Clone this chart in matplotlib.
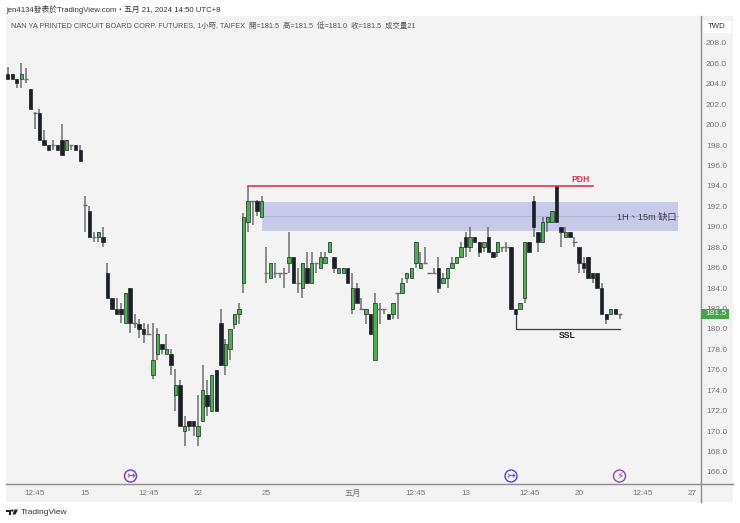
import matplotlib
matplotlib.use('Agg')
import matplotlib.pyplot as plt
from matplotlib.patches import Rectangle, Circle, Polygon
from matplotlib.lines import Line2D

# hourly candles
opens = [205.0, 205.0, 204.5, 204.5, 204.5, 203.5, 201.1, 201.1, 198.5, 198.0, 198.0, 198.0,
         198.5, 197.5, 198.0, 198.0, 197.5, 192.1, 191.5, 189.0, 189.0, 189.0, 185.5, 183.0,
         182.0, 182.0, 180.6, 184.0, 180.6, 180.5, 180.0, 179.5, 175.5, 177.5, 178.5, 177.5,
         177.5, 173.5, 174.5, 170.0, 171.0, 171.0, 169.5, 171.0, 173.5, 172.0, 176.0, 180.6,
         176.5, 178.0, 180.5, 181.5, 184.5, 190.5, 192.5, 192.5, 191.0, 185.5, 185.0, 185.5,
         185.5, 185.5, 186.5, 187.0, 184.5, 184.0, 186.0, 184.5, 186.5, 186.0, 186.5, 187.5,
         187.0, 185.5, 185.5, 186.0, 182.0, 184.0, 182.0, 181.5, 181.5, 177.0, 182.0, 182.0,
         181.5, 181.5, 183.5, 183.5, 185.0, 185.0, 186.5, 186.0, 186.5, 185.5, 185.5, 186.0,
         184.5, 185.0, 186.0, 186.5, 187.0, 189.0, 188.0, 189.0, 188.5, 188.0, 189.0, 187.5,
         187.5, 188.0, 188.0, 188.0, 182.0, 182.0, 183.0, 188.5, 192.5, 189.5, 188.5, 190.5,
         190.5, 194.0, 190.0, 189.0, 189.5, 188.5, 188.0, 186.5, 187.0, 185.5, 185.5, 184.0,
         181.5, 181.5, 182.0, 181.5]
highs = [205.6, 205.0, 204.5, 206.0, 205.5, 203.5, 201.2, 201.5, 199.5, 198.0, 198.5, 198.0,
         200.1, 198.5, 198.0, 198.0, 198.0, 193.0, 192.0, 189.5, 189.5, 190.0, 186.5, 183.0,
         183.0, 182.5, 183.5, 184.0, 181.5, 181.0, 180.6, 180.5, 180.6, 180.1, 178.5, 179.5,
         178.0, 176.1, 175.0, 171.5, 171.0, 171.0, 173.5, 176.5, 175.0, 175.5, 176.0, 182.0,
         179.0, 180.0, 181.5, 182.5, 191.4, 194.0, 192.5, 192.6, 193.0, 188.0, 186.5, 186.5,
         185.5, 186.0, 189.5, 187.0, 186.0, 186.5, 187.5, 187.5, 186.5, 187.5, 187.5, 188.5,
         187.0, 186.0, 186.0, 186.0, 185.5, 184.5, 183.0, 182.0, 181.5, 183.5, 182.5, 182.0,
         181.5, 182.5, 183.5, 185.0, 185.5, 186.0, 188.5, 187.5, 188.0, 185.5, 186.0, 187.0,
         185.5, 186.0, 187.0, 187.0, 188.5, 189.5, 190.0, 189.0, 188.5, 188.5, 190.0, 187.5,
         188.5, 188.0, 188.5, 188.0, 182.0, 182.5, 188.5, 188.5, 193.0, 189.5, 191.0, 191.0,
         191.5, 194.0, 190.0, 190.0, 189.5, 189.0, 188.0, 187.0, 187.0, 185.5, 185.5, 184.5,
         181.5, 182.0, 182.0, 181.5]
lows = [204.5, 204.5, 203.6, 203.6, 204.1, 201.5, 199.6, 198.5, 198.0, 197.5, 197.5, 197.5,
        197.0, 197.5, 197.5, 197.5, 196.4, 189.5, 189.0, 188.5, 188.5, 188.0, 183.0, 182.0,
        181.5, 180.6, 180.6, 179.6, 180.1, 179.1, 178.6, 179.5, 175.1, 177.0, 177.5, 177.5,
        175.5, 172.0, 170.5, 168.5, 170.0, 169.5, 168.5, 171.0, 171.5, 172.0, 172.0, 176.5,
        175.5, 177.0, 180.0, 180.5, 183.5, 189.5, 190.2, 191.1, 191.0, 184.5, 185.0, 185.0,
        185.0, 184.0, 185.5, 184.5, 183.5, 183.0, 184.5, 184.5, 185.5, 186.0, 186.5, 187.5,
        185.5, 185.5, 185.5, 184.5, 181.5, 182.5, 182.0, 180.5, 179.5, 177.0, 180.5, 181.5,
        181.0, 181.0, 181.0, 183.5, 184.5, 185.0, 186.0, 186.0, 186.5, 185.5, 185.5, 183.5,
        184.5, 184.0, 186.0, 186.5, 187.0, 187.0, 187.5, 188.5, 187.0, 187.5, 187.5, 187.0,
        187.0, 187.5, 187.5, 182.0, 181.5, 182.0, 182.5, 187.5, 189.0, 187.5, 188.5, 189.5,
        190.5, 190.5, 188.0, 189.0, 189.0, 188.0, 185.5, 185.5, 185.0, 184.5, 184.0, 181.5,
        180.5, 181.5, 181.5, 181.0]
closes = [204.5, 204.5, 204.1, 205.0, 204.5, 201.5, 201.1, 198.5, 198.0, 197.5, 198.0, 197.5,
          197.0, 198.5, 198.0, 197.5, 196.4, 192.1, 189.0, 189.0, 189.5, 188.5, 183.0, 182.0,
          181.5, 181.5, 183.5, 180.6, 180.6, 180.0, 179.5, 179.5, 177.0, 179.5, 178.0, 178.0,
          176.5, 174.5, 170.5, 170.5, 170.5, 170.5, 170.5, 174.0, 172.5, 175.5, 172.0, 176.5,
          178.5, 180.0, 181.5, 182.0, 191.0, 192.5, 192.5, 191.5, 192.5, 185.5, 186.5, 185.5,
          185.5, 185.5, 187.0, 184.5, 184.5, 186.5, 184.5, 186.5, 186.5, 187.0, 187.0, 188.5,
          186.0, 186.0, 186.0, 184.5, 184.0, 182.5, 182.0, 182.0, 179.5, 182.5, 182.0, 182.0,
          181.0, 182.5, 183.5, 184.5, 185.5, 186.0, 188.5, 186.5, 186.5, 185.5, 185.5, 184.0,
          185.0, 186.0, 186.5, 187.0, 188.0, 188.0, 189.0, 188.5, 187.5, 188.5, 187.5, 187.0,
          188.5, 188.0, 188.0, 182.0, 181.5, 182.5, 188.5, 187.5, 190.0, 188.5, 190.5, 191.0,
          191.5, 190.5, 189.5, 189.5, 189.0, 188.5, 186.5, 186.0, 185.0, 185.0, 184.0, 181.5,
          181.0, 182.0, 181.5, 181.5]

price_ticks = [166 + 2*k for k in range(22)]
time_ticks = [6, 17, 31, 42, 57, 76, 90, 101, 115, 126, 140, 151]
time_labels = ['12:45', '15', '12:45', '22', '25', '五月', '12:45', '13', '12:45', '20', '12:45', '27']
last_price = 181.5
zone_top = 192.45
zone_bottom = 189.6
pdh_level = 194.0
ssl_level = 180.0

W, H = 740, 523
FONT = ['Liberation Sans', 'Noto Sans CJK TC', 'DejaVu Sans']
plt.rcParams['font.family'] = FONT

GREEN = '#4caf50'
BLACK = '#1c1f26'
EDGE = '#20282a'
WICK = '#6e6e6e'


def fx(x):
    return x/W


def fy(y):
    return 1 - y/H


fig = plt.figure(figsize=(W/100, H/100), dpi=100, facecolor='white')

# panel background + axis lines
fig.add_artist(Rectangle((fx(6), fy(502)), 727/W, 486/H, transform=fig.transFigure,
                         facecolor='#f3f3f3', edgecolor='none', zorder=-5))
fig.add_artist(Line2D([fx(701), fx(701)], [fy(16), fy(502)], color='#8c8c8c', lw=1.0))
fig.add_artist(Line2D([fx(6), fx(733)], [fy(484), fy(484)], color='#8c8c8c', lw=1.0))

ax = fig.add_axes([fx(6), fy(484), 695/W, 468/H])
ax.patch.set_alpha(0)
for s in ax.spines.values():
    s.set_visible(False)

ax.set_xlim(-0.375, 152.9)
ax.set_ylim(164.82, 210.64)

# gap zone
ax.add_patch(Rectangle((56.1, zone_bottom), 147.9 - 56.1, zone_top - zone_bottom,
                       facecolor='#c9c9ea', edgecolor='none', zorder=1))
ax.plot([56.1, 147.9], [(zone_top + zone_bottom)/2]*2, color='#b2b2d2', lw=0.8, zorder=1.2)

# candles
idx = list(range(len(opens)))
ax.vlines(idx, lows, highs, color=WICK, lw=1.1, zorder=2)
for i, o, c in zip(idx, opens, closes):
    if o == c:
        ax.hlines(o, i - 0.5, i + 0.5, color=WICK, lw=1.0, zorder=3)
    else:
        ax.bar(i, abs(c - o), bottom=min(o, c), width=0.76,
               color=GREEN if c > o else BLACK, edgecolor=EDGE, linewidth=0.5, zorder=3)

# PDH / SSL drawings
ax.plot([53, 129], [pdh_level, pdh_level], color='#dc3550', lw=1.2, zorder=4)
ax.plot([112, 112, 135], [181.5, ssl_level, ssl_level], color='#3a3a3a', lw=0.9, zorder=1.5)

ax.yaxis.tick_right()
ax.set_yticks(price_ticks)
ax.set_yticklabels(['%.1f' % p for p in price_ticks])
ax.tick_params(axis='y', length=0, pad=3.5, labelsize=6.0, labelcolor='#777777')
ax.set_xticks(time_ticks)
ax.set_xticklabels(time_labels)
ax.tick_params(axis='x', length=0, pad=4.5, labelsize=5.9, labelcolor='#777777')

fig.text(fx(581), fy(180), 'PDH', color='#d8344e', fontsize=6.2, fontweight='bold',
         ha='center', va='center')
fig.text(fx(567.5), fy(335), 'SSL', color='#222222', fontsize=6.2, fontweight='bold',
         ha='center', va='center')
fig.text(fx(647), fy(217), '1H、15m 缺口', color='#3a3a3a', fontsize=6.6, ha='center', va='center')

# header
fig.text(fx(6), fy(9.5), 'jen4134發表於TradingView.com・五月 21, 2024 14:50 UTC+8',
         color='#333333', fontsize=5.6, ha='left', va='center')
fig.text(fx(11), fy(26), 'NAN YA PRINTED CIRCUIT BOARD CORP. FUTURES, 1小時, TAIFEX  '
         '開=181.5  高=181.5  低=181.0  收=181.5  成交量21',
         color='#555555', fontsize=5.3, ha='left', va='center')

# currency box and last price label
fig.add_artist(Rectangle((fx(703), fy(33)), 28/W, 12/H, transform=fig.transFigure,
                         facecolor='white', edgecolor='none', zorder=3))
fig.text(fx(717), fy(27), 'TWD', color='#333333', fontsize=5.6, ha='center', va='center', zorder=4)
fig.add_artist(Rectangle((fx(701), fy(319)), 28/W, 10.5/H, transform=fig.transFigure,
                         facecolor='#43a84a', edgecolor='none', zorder=3))
fig.text(fx(715.5), fy(313.5), '%.1f' % last_price, color='white', fontsize=6.0,
         ha='center', va='center', zorder=4)

# event icons
for x, col, glyph in [(130.5, '#6a35e0', '↣'), (511, '#5a3fd8', '↣'), (619.5, '#9a3fb5', '⚡')]:
    fig.add_artist(Circle((x, H - 476), 6, transform=None, facecolor='none', edgecolor=col, lw=1.0))
    fig.text(fx(x), fy(476), glyph, color=col, fontsize=7.5, ha='center', va='center',
             family='DejaVu Sans')

# logo
fig.add_artist(Polygon([(fx(6), fy(509.5)), (fx(11), fy(509.5)), (fx(11), fy(514.5)), (fx(8.5), fy(514.5)),
                        (fx(8.5), fy(511.5)), (fx(6), fy(511.5))],
                       closed=True, transform=fig.transFigure, facecolor='#222222', edgecolor='none'))
fig.add_artist(Circle((12.3, H - 510.5), 1.2, transform=None, facecolor='#222222', edgecolor='none'))
fig.add_artist(Polygon([(fx(14.5), fy(509.5)), (fx(18), fy(509.5)), (fx(15.5), fy(514.5)), (fx(12.5), fy(514.5))],
                       closed=True, transform=fig.transFigure, facecolor='#222222', edgecolor='none'))
fig.text(fx(21), fy(512.5), 'TradingView', color='#333333', fontsize=6.0, ha='left', va='center')

fig.savefig('out.png', dpi=100, facecolor='white')
